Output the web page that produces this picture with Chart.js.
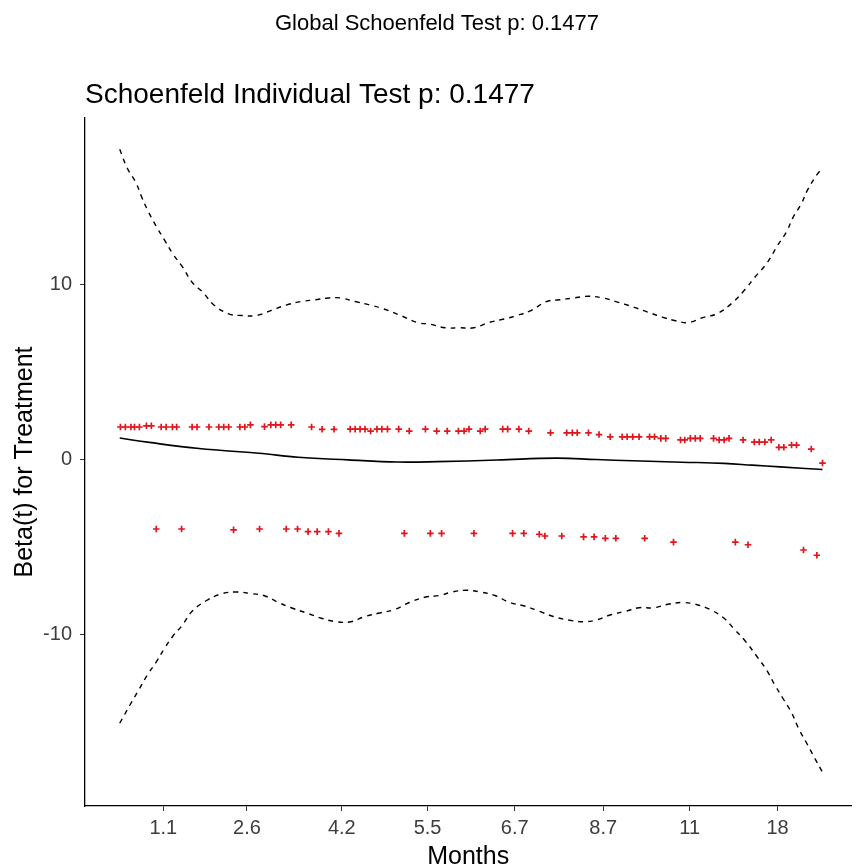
<!DOCTYPE html>
<html>
<head>
<meta charset="utf-8">
<title>Schoenfeld residuals</title>
<script src="https://cdn.jsdelivr.net/npm/chart.js@4.4.0/dist/chart.umd.min.js"></script>
<style>
  html, body { margin: 0; padding: 0; background: #fff; }
  #zph { display: block; }
</style>
</head>
<body>
<canvas id="zph" width="857" height="867"></canvas>
<script>
// x is the transformed (KM) time scale, 0 = first event, 1 = last event
const tickPositions = [0.062, 0.181, 0.316, 0.438, 0.562, 0.688, 0.811, 0.936];
const tickLabels = ['1.1', '2.6', '4.2', '5.5', '6.7', '8.7', '11', '18'];
const yTicks = [-10, 0, 10];

// scaled Schoenfeld residuals
const residTime = [
  0.001, 0.008, 0.016, 0.021, 0.028, 0.038, 0.045, 0.059, 0.066, 0.075, 0.081, 0.103, 0.110, 0.127,
  0.141, 0.148, 0.155, 0.171, 0.178, 0.186, 0.206, 0.215, 0.222, 0.229, 0.244, 0.273, 0.288, 0.305,
  0.328, 0.335, 0.342, 0.349, 0.357, 0.366, 0.373, 0.381, 0.397, 0.412, 0.435, 0.451, 0.466, 0.482,
  0.490, 0.497, 0.513, 0.520, 0.545, 0.552, 0.568, 0.582, 0.613, 0.636, 0.644, 0.651, 0.667, 0.682,
  0.698, 0.715, 0.722, 0.730, 0.739, 0.754, 0.761, 0.770, 0.777, 0.798, 0.804, 0.812, 0.819, 0.826,
  0.845, 0.853, 0.860, 0.867, 0.887, 0.903, 0.910, 0.918, 0.927, 0.938, 0.945, 0.956, 0.963, 0.984, 1.0,
  0.052, 0.088, 0.162, 0.199, 0.237, 0.253, 0.268, 0.281, 0.297, 0.312, 0.405, 0.442, 0.458, 0.504,
  0.559, 0.575, 0.597, 0.605, 0.629, 0.660, 0.675, 0.691, 0.706, 0.747, 0.788, 0.876, 0.894, 0.973, 0.992
];
const residBeta = [
  1.83, 1.83, 1.83, 1.83, 1.83, 1.9, 1.9, 1.83, 1.83, 1.83, 1.83, 1.83, 1.83, 1.83,
  1.83, 1.83, 1.83, 1.83, 1.83, 1.95, 1.85, 1.95, 1.95, 1.95, 1.95, 1.83, 1.7, 1.7,
  1.71, 1.71, 1.71, 1.71, 1.6, 1.71, 1.71, 1.71, 1.71, 1.6, 1.71, 1.6, 1.6, 1.6,
  1.6, 1.71, 1.6, 1.71, 1.71, 1.71, 1.71, 1.6, 1.5, 1.5, 1.5, 1.5, 1.5, 1.4,
  1.27, 1.27, 1.27, 1.27, 1.27, 1.27, 1.27, 1.18, 1.18, 1.09, 1.09, 1.18, 1.18, 1.18,
  1.18, 1.09, 1.09, 1.18, 1.09, 0.97, 0.97, 0.97, 1.09, 0.67, 0.67, 0.8, 0.8, 0.57, -0.23,
  -4.0, -4.0, -4.05, -4.0, -4.0, -4.0, -4.15, -4.15, -4.15, -4.25, -4.25, -4.25, -4.25, -4.25,
  -4.25, -4.25, -4.3, -4.4, -4.4, -4.45, -4.45, -4.53, -4.53, -4.53, -4.75, -4.75, -4.9, -5.2, -5.5
];

// smoothed beta(t)
const fitTime = [0, 0.042, 0.113, 0.198, 0.254, 0.325, 0.395, 0.452, 0.537, 0.621, 0.678, 0.73, 0.8, 0.86, 0.9, 0.94, 1.0];
const fitBeta = [1.2, 0.95, 0.6, 0.33, 0.1, -0.05, -0.17, -0.15, -0.06, 0.05, -0.03, -0.1, -0.18, -0.25, -0.35, -0.45, -0.6];

// confidence band
const upperTime = [
  0, 0.011, 0.023, 0.031, 0.040, 0.052, 0.064, 0.076, 0.089, 0.103, 0.119, 0.134, 0.155, 0.174, 0.194,
  0.216, 0.237, 0.258, 0.278, 0.297, 0.315, 0.335, 0.356, 0.374, 0.400, 0.424, 0.442, 0.463, 0.483,
  0.504, 0.525, 0.547, 0.565, 0.586, 0.607, 0.626, 0.645, 0.667, 0.688, 0.706, 0.730, 0.751, 0.773,
  0.791, 0.809, 0.831, 0.850, 0.871, 0.890, 0.904, 0.921, 0.936, 0.949, 0.958, 0.970, 0.979, 0.993, 1.0
];
const upperBand = [
  17.7, 16.6, 15.8, 15.0, 14.2, 13.3, 12.5, 11.7, 11.0, 10.1, 9.5, 8.8, 8.3, 8.2, 8.2,
  8.5, 8.8, 9.0, 9.1, 9.2, 9.2, 9.0, 8.8, 8.6, 8.2, 7.8, 7.7, 7.5, 7.5,
  7.5, 7.8, 8.0, 8.2, 8.5, 9.0, 9.1, 9.2, 9.3, 9.2, 9.0, 8.7, 8.4, 8.1,
  7.9, 7.8, 8.1, 8.3, 8.9, 9.7, 10.4, 11.2, 12.2, 13.0, 13.8, 14.6, 15.4, 16.3, 16.6
];
const lowerTime = [
  0, 0.014, 0.027, 0.040, 0.052, 0.064, 0.076, 0.089, 0.103, 0.123, 0.145, 0.167, 0.188, 0.205, 0.226,
  0.244, 0.266, 0.287, 0.308, 0.329, 0.349, 0.370, 0.391, 0.412, 0.434, 0.455, 0.473, 0.493, 0.513,
  0.534, 0.555, 0.576, 0.597, 0.617, 0.638, 0.660, 0.678, 0.699, 0.720, 0.739, 0.760, 0.780, 0.801,
  0.819, 0.840, 0.860, 0.874, 0.890, 0.907, 0.921, 0.932, 0.944, 0.956, 0.966, 0.977, 0.989, 1.0
];
const lowerBand = [
  -15.1, -14.1, -13.2, -12.3, -11.6, -10.8, -10.1, -9.5, -8.7, -8.1, -7.7, -7.6, -7.7, -7.8, -8.2,
  -8.5, -8.8, -9.1, -9.3, -9.3, -9.0, -8.8, -8.6, -8.2, -7.9, -7.8, -7.6, -7.5, -7.6,
  -7.8, -8.2, -8.4, -8.7, -9.0, -9.2, -9.3, -9.2, -8.9, -8.7, -8.5, -8.5, -8.3, -8.2,
  -8.3, -8.6, -9.1, -9.7, -10.4, -11.3, -12.1, -12.9, -13.7, -14.5, -15.4, -16.2, -17.1, -17.9
];

const FONT = '"Liberation Sans", Arial, sans-serif';

function toPoints(xs, ys) {
  return xs.map(function(x, i) { return { x: x, y: ys[i] }; });
}

// titles drawn relative to the panel, like ggplot does
const titlesPlugin = {
  id: 'zphTitles',
  afterDraw: function(chart) {
    const ctx = chart.ctx;
    const area = chart.chartArea;
    ctx.save();
    ctx.fillStyle = '#000';
    ctx.textBaseline = 'alphabetic';
    ctx.font = '22px ' + FONT;
    ctx.textAlign = 'center';
    ctx.fillText('Global Schoenfeld Test p: 0.1477', 437, 30);
    ctx.font = '28px ' + FONT;
    ctx.textAlign = 'left';
    ctx.fillText('Schoenfeld Individual Test p: 0.1477', area.left, 103);
    ctx.restore();
  }
};

new Chart(document.getElementById('zph'), {
  type: 'scatter',
  data: {
    datasets: [
      {
        label: 'residuals',
        data: toPoints(residTime, residBeta),
        pointStyle: 'cross',
        pointRadius: 3.3,
        pointBorderWidth: 1.7,
        borderColor: '#e0161c',
        backgroundColor: '#e0161c',
        order: 1
      },
      {
        label: 'beta(t)',
        type: 'line',
        data: toPoints(fitTime, fitBeta),
        borderColor: '#000',
        borderWidth: 1.6,
        pointRadius: 0,
        tension: 0.4,
        fill: false,
        order: 2
      },
      {
        label: 'upper',
        type: 'line',
        data: toPoints(upperTime, upperBand),
        borderColor: '#000',
        borderWidth: 1.4,
        borderDash: [5, 5],
        pointRadius: 0,
        tension: 0.4,
        fill: false,
        order: 3
      },
      {
        label: 'lower',
        type: 'line',
        data: toPoints(lowerTime, lowerBand),
        borderColor: '#000',
        borderWidth: 1.4,
        borderDash: [5, 5],
        pointRadius: 0,
        tension: 0.4,
        fill: false,
        order: 3
      }
    ]
  },
  options: {
    responsive: false,
    animation: false,
    devicePixelRatio: 1,
    layout: { padding: { top: 118, left: 0, right: 0, bottom: 0 } },
    plugins: {
      legend: { display: false },
      title: { display: false },
      tooltip: { enabled: false }
    },
    scales: {
      x: {
        type: 'linear',
        min: -0.0494,
        max: 1.041,
        afterBuildTicks: function(scale) {
          scale.ticks = tickPositions.map(function(v) { return { value: v }; });
        },
        afterFit: function(scale) { scale.height = 61; },
        ticks: {
          autoSkip: false,
          maxRotation: 0,
          padding: 5,
          color: '#3d3d3d',
          font: { family: FONT, size: 20 },
          callback: function(value, index) { return tickLabels[index]; }
        },
        grid: {
          display: true,
          drawOnChartArea: false,
          drawTicks: true,
          tickLength: 5,
          color: '#333',
          lineWidth: 1
        },
        border: { display: true, color: '#000', width: 1.3 },
        title: {
          display: true,
          text: 'Months',
          color: '#000',
          font: { family: FONT, size: 25, lineHeight: 0.8 },
          padding: { top: 0, bottom: 0 }
        }
      },
      y: {
        type: 'linear',
        min: -19.83,
        max: 19.49,
        afterBuildTicks: function(scale) {
          scale.ticks = yTicks.map(function(v) { return { value: v }; });
        },
        afterFit: function(scale) { scale.width = 85; },
        ticks: {
          padding: 8,
          color: '#3d3d3d',
          font: { family: FONT, size: 20 },
          callback: function(value) { return String(value); }
        },
        grid: {
          display: true,
          drawOnChartArea: false,
          drawTicks: true,
          tickLength: 5,
          color: '#333',
          lineWidth: 1
        },
        border: { display: true, color: '#000', width: 1.3 },
        title: {
          display: true,
          text: 'Beta(t) for Treatment',
          color: '#000',
          font: { family: FONT, size: 25, lineHeight: 1.2 },
          padding: { top: 10, bottom: 0 }
        }
      }
    }
  },
  plugins: [titlesPlugin]
});
</script>
</body>
</html>
